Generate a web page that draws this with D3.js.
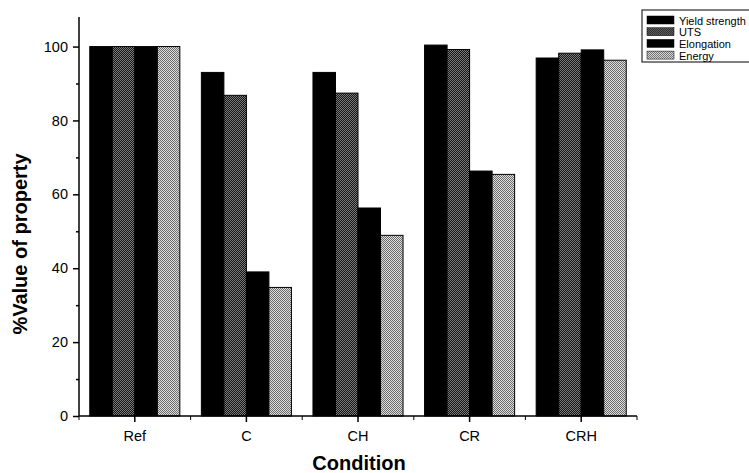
<!DOCTYPE html>
<html><head><meta charset="utf-8">
<script src="https://cdn.jsdelivr.net/npm/d3@7"></script>
<style>body{margin:0;background:#fff}svg{display:block}</style>
</head><body>
<svg id="chart" width="749" height="473"></svg>
<script>
const categories = ["Ref", "C", "CH", "CR", "CRH"];
const seriesNames = ["Yield strength", "UTS", "Elongation", "Energy"];
const yieldStrength = [100, 93, 93, 100.4, 96.9];
const uts = [100, 86.8, 87.4, 99.2, 98.2];
const elongation = [100, 39, 56.3, 66.3, 99.1];
const energy = [100, 34.8, 48.9, 65.4, 96.3];
const yTicks = [0, 20, 40, 60, 80, 100];
const yMinorTicks = [10, 30, 50, 70, 90];

const seriesValues = [yieldStrength, uts, elongation, energy];
const fills = ["#000", "url(#patUTS)", "#000", "url(#patEnergy)"];
const FONT = "Arial, 'Liberation Sans', sans-serif";

const svg = d3.select("#chart");
const defs = svg.append("defs");
function pattern(id, bg, dot) {
  const p = defs.append("pattern").attr("id", id).attr("width", 2).attr("height", 2)
    .attr("patternUnits", "userSpaceOnUse");
  p.append("rect").attr("width", 2).attr("height", 2).attr("fill", bg);
  p.append("rect").attr("x", 0).attr("y", 0).attr("width", 1).attr("height", 1).attr("fill", dot);
  p.append("rect").attr("x", 1).attr("y", 1).attr("width", 1).attr("height", 1).attr("fill", dot);
}
pattern("patUTS", "#151515", "#7a7a7a");
pattern("patEnergy", "#e0e0e0", "#6a6a6a");

const mLeft = 79, mRight = 637, mTop = 17, mBottom = 416;
const x = d3.scaleBand().domain(categories).range([mLeft, mRight]).paddingInner(0.193).paddingOuter(0.0965);
const xs = d3.scaleBand().domain(seriesNames).range([0, x.bandwidth()]);
const y = d3.scaleLinear().domain([0, 108]).range([mBottom, mTop]);

const bars = svg.append("g");
categories.forEach((c, ci) => {
  seriesNames.forEach((s, si) => {
    const v = seriesValues[si][ci];
    bars.append("rect")
      .attr("x", x(c) + xs(s))
      .attr("y", y(v))
      .attr("width", xs.bandwidth())
      .attr("height", y(0) - y(v))
      .attr("fill", fills[si])
      .attr("stroke", "#000").attr("stroke-width", 1);
  });
});

// Y axis
const yAxis = svg.append("g").attr("transform", `translate(${mLeft},0)`)
  .call(d3.axisLeft(y).tickValues(yTicks).tickSize(6).tickPadding(5).tickFormat(d3.format("d")));
svg.append("g").attr("transform", `translate(${mLeft},0)`)
  .call(d3.axisLeft(y).tickValues(yMinorTicks).tickSize(3).tickFormat(""))
  .call(sel => sel.select(".domain").remove());
yAxis.select(".domain").attr("d", `M0,${mTop}V${mBottom}`);

// X axis
const xAxis = svg.append("g").attr("transform", `translate(0,${mBottom})`)
  .call(d3.axisBottom(x).tickSize(6).tickPadding(9).tickSizeOuter(0));
xAxis.select(".domain").attr("d", `M${mLeft},0H${mRight}`);
const minorX = categories.map(c => x(c) - x.step() * x.paddingInner() / 2).concat([mRight]);
svg.append("g").selectAll("line").data(minorX).join("line")
  .attr("x1", d => d).attr("x2", d => d).attr("y1", mBottom).attr("y2", mBottom + 4)
  .attr("stroke", "#000");

svg.selectAll(".tick text").attr("font-family", FONT)
  .attr("font-size", 14.5).attr("fill", "#000");
svg.selectAll(".domain, .tick line").attr("stroke", "#000").attr("stroke-width", 1.5);

// Titles
svg.append("text").attr("x", 359).attr("y", 470).attr("text-anchor", "middle")
  .attr("font-family", FONT).attr("font-weight", "bold")
  .attr("font-size", 20).text("Condition");
svg.append("text").attr("transform", `translate(27,244) rotate(-90)`)
  .attr("text-anchor", "middle")
  .attr("font-family", FONT).attr("font-weight", "bold")
  .attr("font-size", 20).text("%Value of property");

// Legend
const lg = svg.append("g").attr("transform", "translate(642,10)");
lg.append("rect").attr("x", 0).attr("y", 0).attr("width", 120).attr("height", 52)
  .attr("fill", "none").attr("stroke", "#000").attr("stroke-width", 1);
seriesNames.forEach((s, i) => {
  const row = lg.append("g").attr("transform", `translate(5,${6 + i * 11.7})`);
  row.append("rect").attr("width", 27).attr("height", 8).attr("fill", fills[i]).attr("stroke", "#000").attr("stroke-width", 0.5);
  row.append("text").attr("x", 32).attr("y", 8.5).attr("font-family", FONT)
    .attr("font-size", 11).text(s);
});
</script>
</body></html>
